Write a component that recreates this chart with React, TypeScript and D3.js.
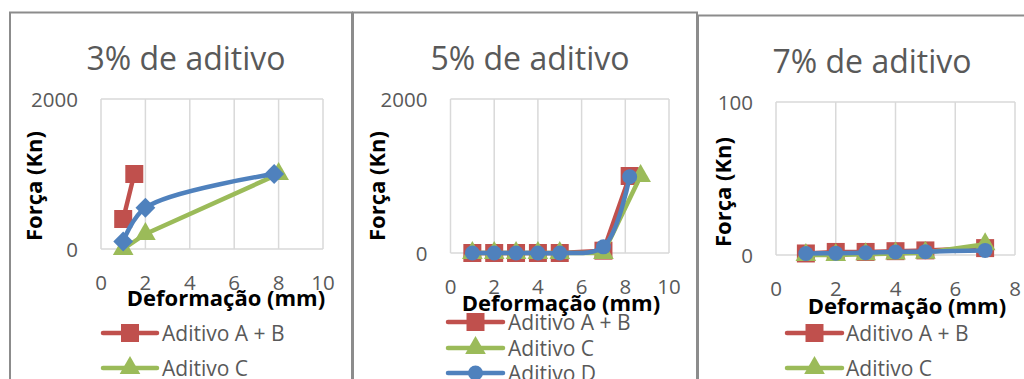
import React from 'react';
import * as d3 from 'd3';

// ---------- data ----------
const seriesNames = ['Aditivo A + B', 'Aditivo C', 'Aditivo D'];

// 3% de aditivo
const xAB3 = [1, 1.5];
const yAB3 = [400, 1000];
const xC3 = [1, 2, 8];
const yC3 = [0, 200, 1000];
const xD3 = [1, 2, 7.8];
const yD3 = [100, 550, 1000];

// 5% de aditivo
const xAB5 = [1, 2, 3, 4, 5, 7, 8.2];
const yAB5 = [0, 0, 0, 0, 0, 30, 1000];
const xC5 = [1, 2, 3, 4, 5, 7, 8.7];
const yC5 = [0, 0, 0, 0, 0, 0, 1000];
const xD5 = [1, 2, 3, 4, 5, 7, 8.2];
const yD5 = [0, 0, 0, 0, 0, 80, 990];

// 7% de aditivo
const xAB7 = [1, 2, 3, 4, 5, 7];
const yAB7 = [1, 2, 2, 2.5, 3, 4.5];
const xC7 = [1, 2, 3, 4, 5, 7];
const yC7 = [0, 0, 0.5, 1, 1.5, 7];
const xD7 = [1, 2, 3, 4, 5, 7];
const yD7 = [1, 1.2, 1.5, 2, 2.2, 3];

const titles = ['3% de aditivo', '5% de aditivo', '7% de aditivo'];
const xTicks10 = [0, 2, 4, 6, 8, 10];
const xTicks8 = [0, 2, 4, 6, 8];
const yTicks2000 = [0, 2000];
const yTicks100 = [0, 100];
const xTitle = 'Deformação (mm)';
const yTitle = 'Força (Kn)';

// ---------- styles ----------
const COLORS = ['#C0504D', '#9BBB59', '#4F81BD'];
const FONT = '"Open Sans", sans-serif';
const GRID = '#D9D9D9';
const TXT = '#595959';
const FRAME = '#8C8C8C';

type Marker = 'square' | 'triangle' | 'diamond' | 'circle';

const zip = (xs: number[], ys: number[]) => xs.map((v, i) => [v, ys[i]] as [number, number]);

const panels = [
  {
    title: titles[0],
    frame: { x: 10, y: 12.5, w: 342 },
    plot: { l: 101, r: 323, t: 99, b: 249 },
    xDomain: [0, 10], yDomain: [0, 2000], xTicks: xTicks10, yTicks: yTicks2000,
    titlePos: [186, 57], yTitlePos: [33, 186], xTitlePos: [226, 297],
    legend: { x1: 103, x2: 157, tx: 162, ys: [333, 368, 403] },
    series: [zip(xAB3, yAB3), zip(xC3, yC3), zip(xD3, yD3)],
    dMarker: 'diamond' as Marker,
  },
  {
    title: titles[1],
    frame: { x: 353, y: 12.5, w: 344 },
    plot: { l: 450.5, r: 669, t: 99, b: 253 },
    xDomain: [0, 10], yDomain: [0, 2000], xTicks: xTicks10, yTicks: yTicks2000,
    titlePos: [530, 57], yTitlePos: [376, 186], xTitlePos: [561, 302],
    legend: { x1: 448, x2: 503, tx: 508, ys: [322, 348, 373] },
    series: [zip(xAB5, yAB5), zip(xC5, yC5), zip(xD5, yD5)],
    dMarker: 'circle' as Marker,
  },
  {
    title: titles[2],
    frame: { x: 698, y: 15.5, w: 400 },
    plot: { l: 776, r: 1015, t: 102, b: 255 },
    xDomain: [0, 8], yDomain: [0, 100], xTicks: xTicks8, yTicks: yTicks100,
    titlePos: [872, 60], yTitlePos: [722, 192], xTitlePos: [907, 305],
    legend: { x1: 787, x2: 842, tx: 846, ys: [333, 368, 403] },
    series: [zip(xAB7, yAB7), zip(xC7, yC7), zip(xD7, yD7)],
    dMarker: 'circle' as Marker,
  },
];

function markerPath(m: Marker): { d: string; rot: number } {
  switch (m) {
    case 'square':
      return { d: d3.symbol().type(d3.symbolSquare).size(18 * 18)() as string, rot: 0 };
    case 'triangle':
      return { d: d3.symbol().type(d3.symbolTriangle).size(185)() as string, rot: 0 };
    case 'diamond':
      return { d: d3.symbol().type(d3.symbolSquare).size(14 * 14)() as string, rot: 45 };
    default:
      return { d: d3.symbol().type(d3.symbolCircle).size(Math.PI * 7.5 * 7.5)() as string, rot: 0 };
  }
}

function Mark({ m, x, y, color }: { m: Marker; x: number; y: number; color: string }) {
  const p = markerPath(m);
  return <path d={p.d} fill={color} transform={`translate(${x},${y}) rotate(${p.rot})`} />;
}

function Panel({ cfg }: { cfg: (typeof panels)[number] }) {
  const x = d3.scaleLinear().domain(cfg.xDomain).range([cfg.plot.l, cfg.plot.r]);
  const y = d3.scaleLinear().domain(cfg.yDomain).range([cfg.plot.b, cfg.plot.t]);
  const markers: Marker[] = ['square', 'triangle', cfg.dMarker];
  const straight = d3.line<[number, number]>().x((d) => x(d[0])).y((d) => y(d[1]));
  const smooth = d3
    .line<[number, number]>()
    .x((d) => x(d[0]))
    .y((d) => y(d[1]))
    .curve(d3.curveCatmullRom.alpha(0.5));
  return (
    <g>
      <rect x={cfg.frame.x} y={cfg.frame.y} width={cfg.frame.w} height={500} fill="white" stroke={FRAME} strokeWidth={2} />
      <text x={cfg.titlePos[0]} y={cfg.titlePos[1]} textAnchor="middle" dominantBaseline="central" fontSize={32} fill={TXT} fontFamily={FONT}>
        {cfg.title}
      </text>
      {cfg.xTicks.map((t) => (
        <line key={'gx' + t} x1={x(t)} x2={x(t)} y1={cfg.plot.t} y2={cfg.plot.b} stroke={GRID} strokeWidth={1.5} />
      ))}
      {cfg.yTicks.map((t) => (
        <line key={'gy' + t} x1={cfg.plot.l} x2={cfg.plot.r} y1={y(t)} y2={y(t)} stroke={GRID} strokeWidth={1.5} />
      ))}
      {cfg.yTicks.map((t) => (
        <text key={'ty' + t} x={cfg.plot.l - 23} y={y(t)} textAnchor="end" dominantBaseline="central" fontSize={20.5} fill={TXT} fontFamily={FONT}>
          {t}
        </text>
      ))}
      {cfg.xTicks.map((t) => (
        <text key={'tx' + t} x={x(t)} y={cfg.plot.b + 33} textAnchor="middle" dominantBaseline="central" fontSize={20.5} fill={TXT} fontFamily={FONT}>
          {t}
        </text>
      ))}
      {cfg.series.map((s, i) => (
        <g key={'s' + i}>
          <path d={(i === 2 ? smooth : straight)(s) as string} fill="none" stroke={COLORS[i]} strokeWidth={4.5} strokeLinejoin="round" strokeLinecap="round" />
          {s.map((p, j) => (
            <Mark key={j} m={markers[i]} x={x(p[0])} y={y(p[1])} color={COLORS[i]} />
          ))}
        </g>
      ))}
      <text
        transform={`translate(${cfg.yTitlePos[0]},${cfg.yTitlePos[1]}) rotate(-90)`}
        textAnchor="middle"
        dominantBaseline="central"
        fontSize={22}
        fontWeight="bold"
        fill="#000"
        fontFamily={FONT}
      >
        {yTitle}
      </text>
      <text x={cfg.xTitlePos[0]} y={cfg.xTitlePos[1]} textAnchor="middle" dominantBaseline="central" fontSize={22} fontWeight="bold" fill="#000" fontFamily={FONT}>
        {xTitle}
      </text>
      {seriesNames.map((n, i) => (
        <g key={'lg' + i}>
          <line x1={cfg.legend.x1} x2={cfg.legend.x2} y1={cfg.legend.ys[i]} y2={cfg.legend.ys[i]} stroke={COLORS[i]} strokeWidth={4.5} strokeLinecap="round" />
          <Mark m={markers[i]} x={(cfg.legend.x1 + cfg.legend.x2) / 2} y={cfg.legend.ys[i]} color={COLORS[i]} />
          <text x={cfg.legend.tx} y={cfg.legend.ys[i]} dominantBaseline="central" fontSize={21} fill={TXT} fontFamily={FONT}>
            {n}
          </text>
        </g>
      ))}
    </g>
  );
}

export default function App() {
  return (
    <div style={{ position: 'fixed', left: 0, top: 0 }}>
      <svg width={1024} height={379} style={{ display: 'block', background: 'white' }}>
        <rect x={0} y={0} width={1024} height={379} fill="white" />
        {panels.map((p, i) => (
          <Panel key={i} cfg={p} />
        ))}
      </svg>
    </div>
  );
}
